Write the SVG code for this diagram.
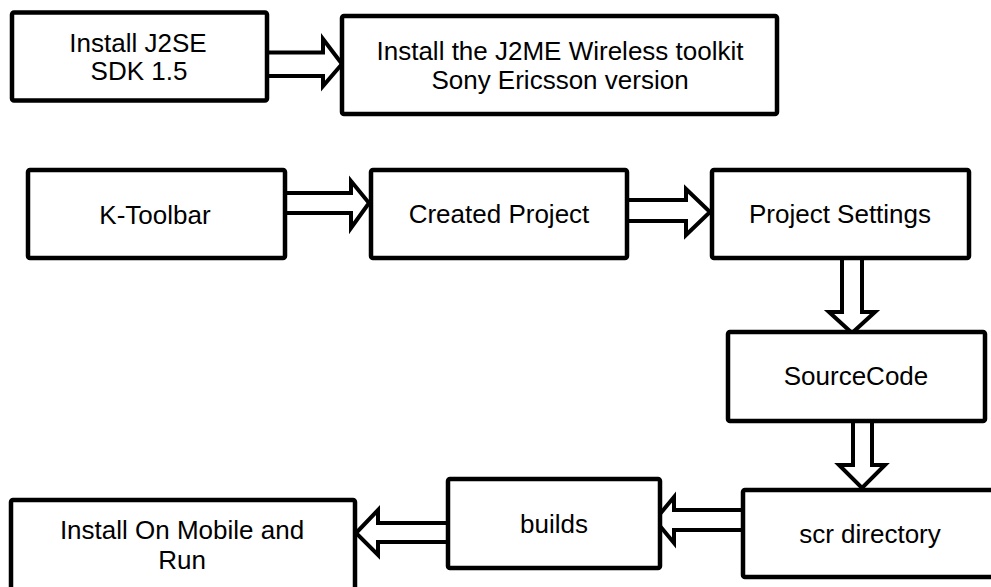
<svg xmlns="http://www.w3.org/2000/svg" width="991" height="587" viewBox="0 0 991 587">
<style>
.box{fill:#fff;stroke:#000;stroke-width:4.5;stroke-linejoin:round}
.arr{fill:#fff;stroke:#000;stroke-width:4;stroke-linejoin:miter;stroke-miterlimit:10}
text{font-family:"Liberation Sans",Arial,sans-serif;font-size:26px;fill:#000;text-anchor:middle}
</style>
<rect width="991" height="587" fill="#fff"/>
<g id="connectors">
<polygon class="arr" points="267,52.5 323,52.5 323,39 342,64 323,86 323,76 267,76"/>
<polygon class="arr" points="285,193 351,193 351,181 369,203 351,228 351,213 285,213"/>
<polygon class="arr" points="627,200 686,200 686,189 710,212 686,235 686,221 627,221"/>
<polygon class="arr" points="842,258 842,312 829,312 852,333 875,312 862,312 862,258"/>
<polygon class="arr" points="853,421 853,465 839,465 862,488 885,465 872,465 872,421"/>
<polygon class="arr" points="743,510 674,510 674,497 655,520 674,543 674,530 743,530"/>
<polygon class="arr" points="448,523 378,523 378,510 356,533 378,555 378,542 448,542"/>
</g>
<g id="n1"><rect class="box" x="12" y="12.5" width="255" height="88" rx="2"/><text x="138" y="52">Install J2SE</text><text x="139" y="80">SDK 1.5</text></g>
<g id="n2"><rect class="box" x="342" y="16" width="435" height="98" rx="2"/><text x="560" y="60">Install the J2ME Wireless toolkit</text><text x="560" y="89">Sony Ericsson version</text></g>
<g id="n3"><rect class="box" x="28" y="170" width="257" height="88" rx="2"/><text x="155" y="224">K-Toolbar</text></g>
<g id="n4"><rect class="box" x="371" y="170" width="256" height="88" rx="2"/><text x="499" y="223">Created Project</text></g>
<g id="n5"><rect class="box" x="712" y="170" width="257" height="88" rx="2"/><text x="840" y="223">Project Settings</text></g>
<g id="n6"><rect class="box" x="728" y="332" width="257" height="89" rx="2"/><text x="856" y="385">SourceCode</text></g>
<g id="n7"><rect class="box" x="743" y="490" width="254" height="87" rx="2"/><text x="870" y="543">scr directory</text></g>
<g id="n8"><rect class="box" x="448" y="479" width="212" height="89" rx="2"/><text x="554" y="533">builds</text></g>
<g id="n9"><rect class="box" x="11" y="500" width="344" height="100" rx="2"/><text x="182" y="539">Install On Mobile and</text><text x="182" y="569">Run</text></g>
</svg>
